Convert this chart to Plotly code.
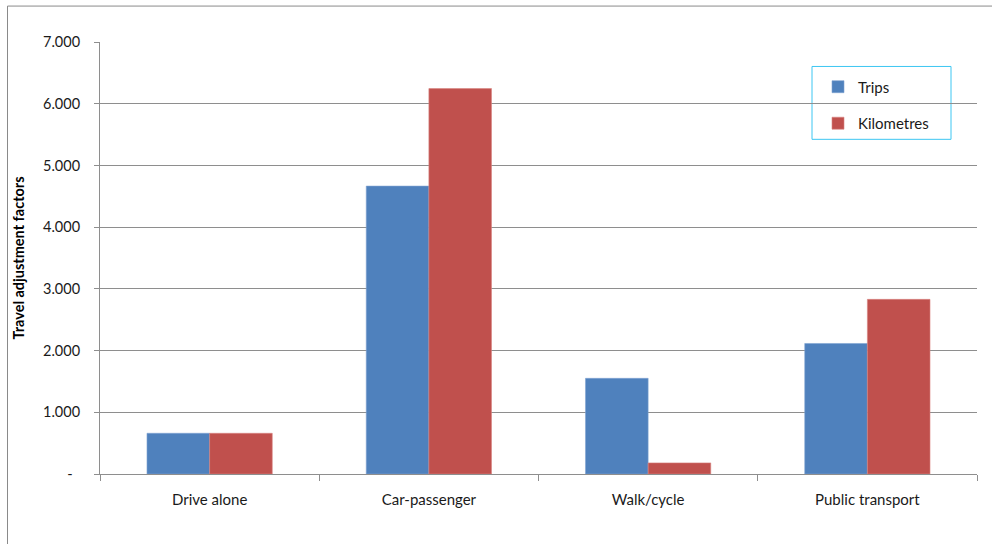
import plotly.graph_objects as go

# Travel adjustment factors by mode
categories = ["Drive alone", "Car-passenger", "Walk/cycle", "Public transport"]
trips = [0.66, 4.665, 1.55, 2.115]
kilometres = [0.66, 6.245, 0.18, 2.83]

y_tick_vals = [0, 1, 2, 3, 4, 5, 6, 7]
y_tick_text = ["-\u00a0\u00a0", "1.000", "2.000", "3.000", "4.000", "5.000", "6.000", "7.000"]

BLUE = "#4F81BD"
RED = "#C0504D"
GRID = "#8E8E8E"
FONT = "Lato"
TEXT = "#1a1a1a"

fig = go.Figure()
fig.add_trace(go.Bar(name="Trips", x=categories, y=trips,
                     marker=dict(color=BLUE, line=dict(color="#7FA3D1", width=0.6)),
                     legendgroup="a"))
fig.add_trace(go.Bar(name="Kilometres", x=categories, y=kilometres,
                     marker=dict(color=RED, line=dict(color="#D88482", width=0.6)),
                     legendgroup="b"))

W, H = 992, 544
L, R, T, B = 100, 15, 41.5, 69.7
pw = W - L - R
ph = H - T - B

def px_x(v):
    return (v - L) / pw

def px_y(v):
    return (H - B - v) / ph

fig.update_layout(
    width=W, height=H,
    margin=dict(l=L, r=R, t=T, b=B, autoexpand=False),
    paper_bgcolor="white", plot_bgcolor="white",
    font=dict(family=FONT, size=14, color=TEXT),
    barmode="group", bargap=0.4286, bargroupgap=0,
    showlegend=True,
    legend=dict(x=px_x(818), y=px_y(70), xanchor="left", yanchor="top",
                bgcolor="rgba(0,0,0,0)", borderwidth=0,
                font=dict(family=FONT, size=15, color=TEXT),
                tracegroupgap=14, itemwidth=30),
    shapes=[
        # legend frame
        dict(type="rect", xref="paper", yref="paper",
             x0=px_x(812), x1=px_x(951), y0=px_y(139), y1=px_y(66),
             line=dict(color="#3CC6F2", width=1), fillcolor="white", layer="below"),
        # chart area frame
        dict(type="rect", xref="paper", yref="paper",
             x0=px_x(7.5), x1=px_x(1010), y0=px_y(560), y1=px_y(5.5),
             line=dict(color="#8A8A8A", width=1), fillcolor="rgba(0,0,0,0)", layer="below"),
    ],
)

fig.update_xaxes(
    type="category", showgrid=False,
    showline=True, linecolor=GRID, linewidth=1,
    ticks="outside", ticklen=6, tickcolor=GRID, tickson="boundaries",
    tickfont=dict(family=FONT, size=15, color=TEXT),
    ticklabelstandoff=12,
)
fig.update_yaxes(
    range=[0, 7], tickvals=y_tick_vals, ticktext=y_tick_text,
    showgrid=True, gridcolor=GRID, gridwidth=1,
    showline=True, linecolor=GRID, linewidth=1,
    ticks="outside", ticklen=5, tickcolor=GRID,
    tickfont=dict(family=FONT, size=14.5, color=TEXT),
    ticklabelstandoff=11,
    zeroline=False,
    title=dict(text="<b>Travel adjustment factors</b>",
               font=dict(family=FONT, size=14.5, color="#000000"), standoff=14),
)

fig.write_html("out.html")
